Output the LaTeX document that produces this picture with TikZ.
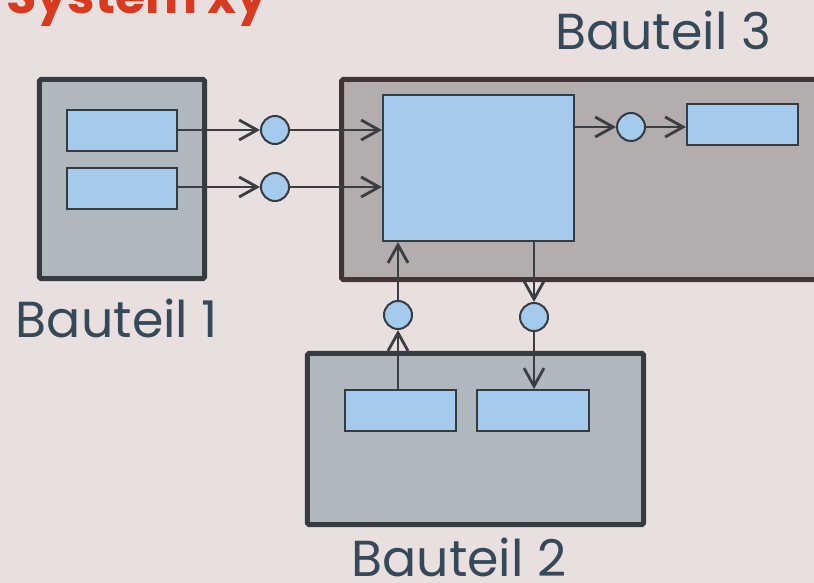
\documentclass[tikz,border=0pt]{standalone}
\usepackage{fontspec}
\setmainfont{Poppins}
\usetikzlibrary{arrows.meta}
\definecolor{bgpink}{HTML}{EADFDF}
\definecolor{partgray}{HTML}{B0B8BF}
\definecolor{partedge}{HTML}{363B40}
\definecolor{mainfill}{HTML}{B3ADAD}
\definecolor{mainedge}{HTML}{433535}
\definecolor{portblue}{HTML}{A4CAEE}
\definecolor{wire}{HTML}{3A3D42}
\definecolor{labelcol}{HTML}{34495A}
\definecolor{titlered}{HTML}{D9391E}
\begin{document}
\begin{tikzpicture}[x=0.025cm,y=-0.025cm,
    part/.style={draw=partedge, fill=partgray, line width=0.125cm, rounded corners=1pt, inner sep=0pt},
    sub/.style={draw=partedge, fill=portblue, line width=0.05cm, inner sep=0pt, minimum width=2.775cm, minimum height=1.025cm},
    port/.style={draw=partedge, fill=portblue, line width=0.05cm, circle, inner sep=0pt, minimum size=0.7cm},
    flow/.style={draw=wire, line width=0.07cm, -{Straight Barb[length=0.45cm,width=0.5cm,line width=0.07cm]}},
    caption/.style={text=labelcol, font=\fontsize{36}{40}\selectfont, inner sep=0pt}]
    \clip (0,0) rectangle (814,583);
    \fill[bgpink] (0,0) rectangle (814,583);

    % Bauteil 1
    \node[part, minimum width=4.125cm, minimum height=4.975cm] (b1) at (122,179) {};
    \node[sub, minimum width=2.75cm] (o1) at (122,130.5) {};
    \node[sub, minimum width=2.75cm] (o2) at (122,188.5) {};
    \node[caption] (l1) at (117,318) {Bauteil 1};

    % Bauteil 3
    \node[part, draw=mainedge, fill=mainfill, minimum width=12.2cm, minimum height=5cm] (b3) at (585.75,179.5) {};
    \node[sub, minimum width=4.775cm, minimum height=3.65cm] (core) at (478.5,168) {};
    \node[sub] (out) at (742.5,124.5) {};
    \node[caption] (l3) at (663,30) {Bauteil 3};

    % Bauteil 2
    \node[part, minimum width=8.4cm, minimum height=4.275cm] (b2) at (475.5,439) {};
    \node[sub] (o3) at (400.5,410.5) {};
    \node[sub] (i3) at (533,410.5) {};
    \node[caption] (l2) at (459,557) {Bauteil 2};

    % ports
    \node[port] (p1) at (275,130) {};
    \node[port] (p2) at (275,187) {};
    \node[port] (p3) at (631,127) {};
    \node[port] (p4) at (398,315) {};
    \node[port] (p5) at (534,317) {};

    \draw[flow] (o1.east |- p1) -- (p1.west);
    \draw[flow] (p1.east) -- (core.west |- p1);
    \draw[flow] (o2.east |- p2) -- (p2.west);
    \draw[flow] (p2.east) -- (core.west |- p2);
    \draw[flow] (core.east |- p3) -- (p3.west);
    \draw[flow] (p3.east) -- (out.west |- p3);
    \draw[flow] (o3.north -| p4) -- (p4.south);
    \draw[flow] (p4.north) -- (core.south -| p4);
    \draw[flow] (core.south -| p5) -- (p5.north);
    \draw[flow] (p5.south) -- (i3.north -| p5);

    \node[text=titlered, font=\fontsize{35}{40}\selectfont\bfseries, anchor=base west, inner sep=0pt] (title) at (6,14) {System xy};
\end{tikzpicture}
\end{document}
